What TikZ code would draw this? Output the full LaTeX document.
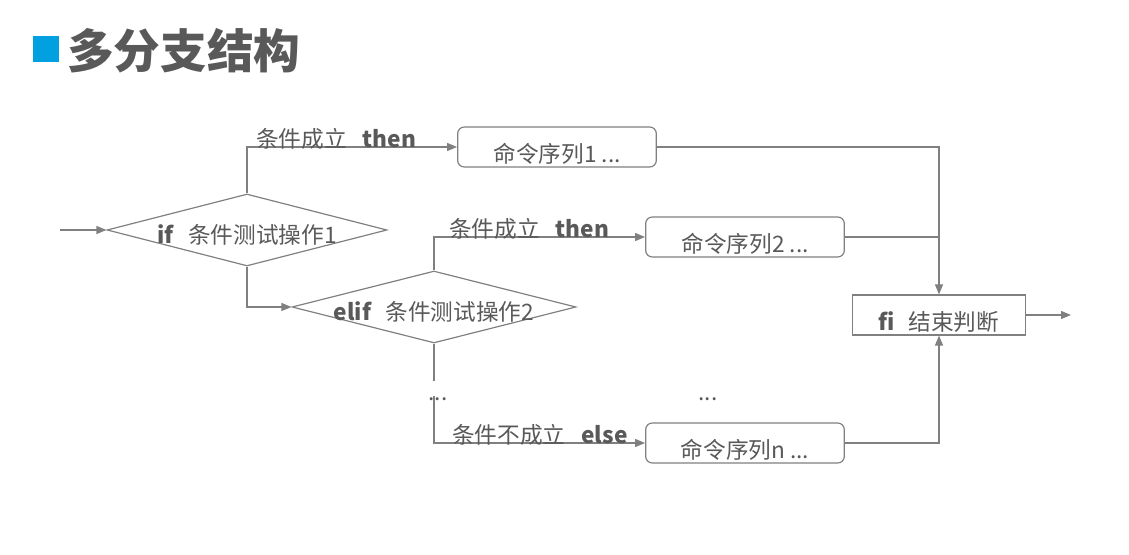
\documentclass[tikz,border=0pt]{standalone}
\usepackage{fontspec}
\setmainfont{Noto Sans CJK SC}
\usetikzlibrary{calc,positioning,shapes.geometric,arrows.meta}

\definecolor{linegray}{RGB}{128,128,128}
\definecolor{textgray}{RGB}{89,89,89}
\definecolor{titleblue}{RGB}{0,160,225}

\begin{document}
\begin{tikzpicture}[x=0.75pt, y=-0.75pt,
  every node/.style={text=textgray, font=\fontsize{17}{19}\selectfont},
  flow/.style={draw=linegray, line width=0.9pt},
  arr/.style={flow, -{Triangle[length=7.5pt,width=6pt]}},
  cond/.style={diamond, draw=linegray, line width=0.9pt,
               inner sep=0pt, minimum height=54pt},
  condtext/.style={label={[yshift=-3.5pt]center:#1}},
  cmdbox/.style={draw=linegray, line width=0.9pt, rounded corners=5pt,
                 minimum width=149pt, minimum height=30pt, inner sep=0pt,
                 text height=24pt, text depth=0pt},
  endbox/.style={cmdbox, rounded corners=0pt, minimum width=130pt},
  lbl/.style={anchor=base west, inner sep=0pt}]

\useasboundingbox (0,0) rectangle (1129,555);

% Title
\node[fill=titleblue, minimum size=19pt, inner sep=0pt] (mark) at (46,49) {};
\node[anchor=west, inner sep=0pt, font=\fontsize{35}{38}\selectfont\bfseries]
  (title) at (67,51) {多分支结构};

% Tests
\node[cond, minimum width=210pt,
      condtext={\textbf{if}\hspace{0.6em}条件测试操作1}] (test1) at (247,230) {};
\node[cond, minimum width=213pt,
      condtext={\textbf{elif}\hspace{0.6em}条件测试操作2}] (test2) at (434,307) {};

% Command sequences
\node[cmdbox] (seq1) at (557,147) {命令序列1 ...};
\node[cmdbox] (seq2) at (745,237) {命令序列2 ...};
\node[cmdbox] (seqn) at (745,443) {命令序列n ...};
\node[endbox] (fi) at (939,315) {\textbf{fi}\hspace{0.6em}结束判断};

% Dots
\node (dotsa) at (438,399) {...};
\node (dotsb) at (708,399) {...};

\coordinate (in) at (60,230);
\coordinate (out) at (1071,315);
\coordinate (gapa) at ($(test2.south)+(0,37)$);
\coordinate (gapb) at ($(test2.south)+(0,52)$);

% Connectors
\draw[arr] (in) -- (test1.west);
\draw[arr] (test1.north) |- (seq1.west);
\draw[arr] (test1.south) |- (test2.west);
\draw[arr] (test2.north) |- (seq2.west);
\draw[flow] (test2.south) -- (gapa);
\draw[arr] (gapb) |- (seqn.west);
\draw[arr] (seq1.east) -| (fi.north);
\draw[flow] (seq2.east) -- (seq2.east -| fi.north);
\draw[arr] (seqn.east) -| (fi.south);
\draw[arr] (fi.east) -- (out);

% Labels
\node[lbl] (then1) at ($(test1.north |- seq1.west)+(9,1)$)
  {条件成立\hspace{0.7em}\textbf{then}};
\node[lbl] (then2) at ($(test2.north |- seq2.west)+(15,1)$)
  {条件成立\hspace{0.7em}\textbf{then}};
\node[lbl] (else) at ($(gapb |- seqn.west)+(18,1)$)
  {条件不成立\hspace{0.7em}\textbf{else}};

\end{tikzpicture}
\end{document}
